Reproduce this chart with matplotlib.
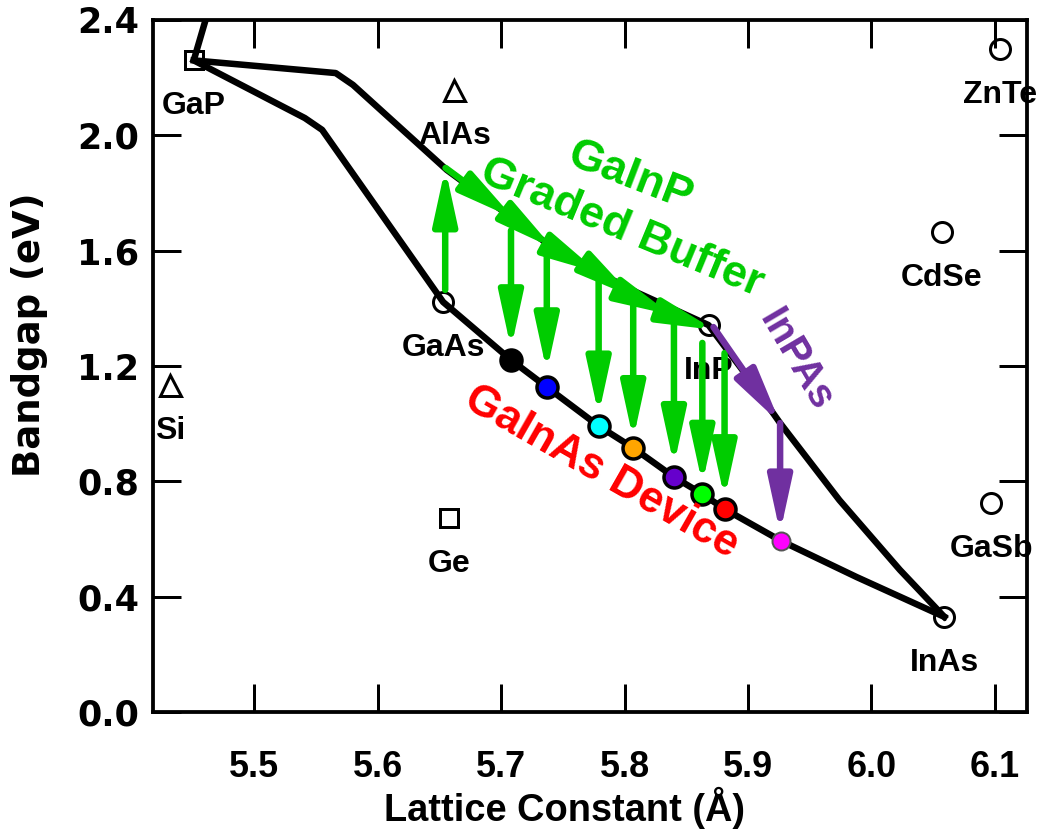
import numpy as np
import matplotlib
matplotlib.use("Agg")
import matplotlib.pyplot as plt
from matplotlib import font_manager as fm

# ---------------- data ----------------
comp_names = ['GaP', 'AlAs', 'Si', 'Ge', 'GaAs', 'InP', 'InAs', 'GaSb', 'CdSe', 'ZnTe']
comp_a = [5.451, 5.662, 5.432, 5.658, 5.653, 5.868, 6.059, 6.097, 6.057, 6.104]
comp_eg = [2.26, 2.157, 1.134, 0.673, 1.422, 1.342, 0.330, 0.725, 1.665, 2.30]
comp_marker = ['s', '^', '^', 's', 'o', 'o', 'o', 'o', 'o', 'o']

# GaP -> AlP line (leaves the top of the plot)
gap_alp_a = [5.451, 5.464]
gap_alp_eg = [2.26, 2.45]

# upper boundary: GaP -> GaInP -> InP -> InPAs -> InAs
upper_a = [5.451, 5.566, 5.580, 5.656, 5.741, 5.779, 5.811, 5.868, 5.898, 5.926, 5.974, 6.023, 6.059]
upper_eg = [2.26, 2.216, 2.175, 1.880, 1.613, 1.523, 1.453, 1.342, 1.172, 1.002, 0.735, 0.493, 0.330]

# lower boundary: GaP -> GaAsP -> GaAs -> GaInAs -> InAs
lower_a = [5.451, 5.541, 5.555, 5.653, 5.708, 5.737, 5.779, 5.807, 5.840, 5.863, 5.881, 5.927, 5.988, 6.059]
lower_eg = [2.26, 2.060, 2.019, 1.422, 1.221, 1.127, 0.992, 0.916, 0.815, 0.756, 0.704, 0.593, 0.468, 0.330]

# GaInAs device compositions
dev_a = [5.708, 5.737, 5.779, 5.807, 5.840, 5.863, 5.881]
dev_eg = [1.221, 1.127, 0.992, 0.916, 0.815, 0.756, 0.704]
dev_colors = ['#000000', '#0000ff', '#00ffff', '#ffa500', '#6600cc', '#00ff00', '#ff0000']
inpas_dev_a = [5.927]
inpas_dev_eg = [0.593]

# GaInP graded buffer (down arrows start / end)
down_top = [1.67, 1.60, 1.50, 1.43, 1.36, 1.28, 1.245]
down_tip = [1.26, 1.18, 1.03, 0.945, 0.855, 0.79, 0.74]

# step-graded buffer chain along GaInP line
chain_a = [5.655, 5.710, 5.742, 5.779, 5.807, 5.838, 5.873]
chain_eg = [1.887, 1.713, 1.609, 1.523, 1.439, 1.377, 1.325]

# GaAs -> GaInP up arrow
up_a = [5.6547, 5.6547]
up_eg = [1.464, 1.887]

# InPAs purple arrows
inpas_a = [5.872, 5.926, 5.926]
inpas_eg = [1.335, 1.002, 0.621]

xticks = [5.5, 5.6, 5.7, 5.8, 5.9, 6.0, 6.1]
yticks = [0.0, 0.4, 0.8, 1.2, 1.6, 2.0, 2.4]


def has_font(name):
    try:
        fm.findfont(fm.FontProperties(family=name), fallback_to_default=False)
        return True
    except Exception:
        return False

SANS = 'Liberation Sans' if has_font('Liberation Sans') else 'DejaVu Sans'
NARROW = SANS
for cand in ['Liberation Sans Narrow', 'DejaVu Sans Condensed']:
    if has_font(cand):
        NARROW = cand
        break
WIDE = 'DejaVu Sans'

GREEN = '#00cc00'
PURPLE = '#7030a0'

DPI = 72
fig = plt.figure(figsize=(1040 / DPI, 831 / DPI), dpi=DPI)
ax = fig.add_axes([153 / 1040, 1 - 712 / 831, 874 / 1040, 692 / 831])
ax.set_xlim(5.418, 6.126)
ax.set_ylim(0, 2.4)

# curves
ax.plot(gap_alp_a, gap_alp_eg, color='black', lw=6.5, zorder=3, solid_capstyle='butt')
ax.plot(upper_a, upper_eg, color='black', lw=6.5, zorder=3, solid_joinstyle='round')
ax.plot(lower_a, lower_eg, color='black', lw=6.5, zorder=3, solid_joinstyle='round')

# binary compounds
for name, a, eg, m in zip(comp_names, comp_a, comp_eg, comp_marker):
    ms = 20 if m == 'o' else (21 if m == '^' else 18)
    ax.plot([a], [eg], marker=m, ms=ms, mfc='none', mec='black', mew=3, ls='none', zorder=4)
    ax.annotate(name, (a, eg), xytext=(0, -46), textcoords='offset points',
                ha='center', va='center', fontsize=32, fontweight='bold',
                family=SANS, color='black', zorder=2)

def arrow(x0, y0, x1, y1, color, lw=6.5):
    ax.annotate('', xy=(x1, y1), xytext=(x0, y0),
                arrowprops=dict(arrowstyle='-|>,head_length=0.46,head_width=0.1',
                                mutation_scale=100, lw=lw, color=color,
                                shrinkA=0, shrinkB=0),
                zorder=5)

# up arrow GaAs -> GaInP
arrow(up_a[0], up_eg[0], up_a[1], up_eg[1], GREEN)
# chain of buffer steps
for i in range(len(chain_a) - 1):
    arrow(chain_a[i], chain_eg[i], chain_a[i + 1], chain_eg[i + 1], GREEN)
# down arrows to devices
for a, t, b in zip(dev_a, down_top, down_tip):
    arrow(a, t, a, b, GREEN)
# InPAs arrows
arrow(inpas_a[0], inpas_eg[0], inpas_a[1], inpas_eg[1], PURPLE)
arrow(inpas_a[1], inpas_eg[1], inpas_a[2], inpas_eg[2], PURPLE)

# device dots
for a, eg, c in zip(dev_a, dev_eg, dev_colors):
    ax.plot([a], [eg], marker='o', ms=21, mfc=c, mec='black', mew=3.5, ls='none', zorder=6)
ax.plot(inpas_dev_a, inpas_dev_eg, marker='o', ms=18, mfc='#ff00ff', mec='#555555',
        mew=2, ls='none', zorder=6)

# annotations
ax.text(5.804, 1.856, 'GaInP', color=GREEN, fontsize=45, fontweight='bold', family=SANS,
        rotation=-21, ha='center', va='center', rotation_mode='anchor', zorder=7)
ax.text(5.798, 1.679, 'Graded Buffer', color=GREEN, fontsize=45, fontweight='bold', family=SANS,
        rotation=-22.5, ha='center', va='center', rotation_mode='anchor', zorder=7)
ax.text(5.939, 1.221, 'InPAs', color=PURPLE, fontsize=40, fontweight='bold', family=SANS,
        rotation=-59.5, ha='center', va='center', rotation_mode='anchor', zorder=7)
ax.text(5.781, 0.832, 'GaInAs Device', color='#ff0000', fontsize=44, fontweight='bold', family=SANS,
        rotation=-29.7, ha='center', va='center', rotation_mode='anchor', zorder=7)

# axes styling
ax.set_xticks(xticks)
ax.set_yticks(yticks)
ax.set_xticklabels([f'{v:.1f}' for v in xticks])
ax.set_yticklabels([f'{v:.1f}' for v in yticks])
ax.tick_params(direction='in', length=28, width=3, top=True, right=True, color='black')
ax.tick_params(axis='x', pad=38)
ax.tick_params(axis='y', pad=14)
for lab in ax.get_xticklabels():
    lab.set_fontfamily(NARROW)
    lab.set_fontweight('bold')
    lab.set_fontsize(36)
for lab in ax.get_yticklabels():
    lab.set_fontfamily(WIDE)
    lab.set_fontweight('bold')
    lab.set_fontsize(35)
for s in ax.spines.values():
    s.set_linewidth(3.8)

ax.set_xlabel('Lattice Constant (Å)', fontsize=38, fontweight='bold', family=NARROW)
ax.xaxis.set_label_coords((565 - 153) / 874, (712 - 808) / 692)
ax.xaxis.label.set_va('center')
ax.set_ylabel('Bandgap (eV)', fontsize=37, fontweight='bold', family=WIDE)
ax.yaxis.set_label_coords((29 - 153) / 874, (712 - 335) / 692)
ax.yaxis.label.set_va('center')
ax.yaxis.label.set_ha('center')

fig.savefig('out.png', dpi=DPI)
